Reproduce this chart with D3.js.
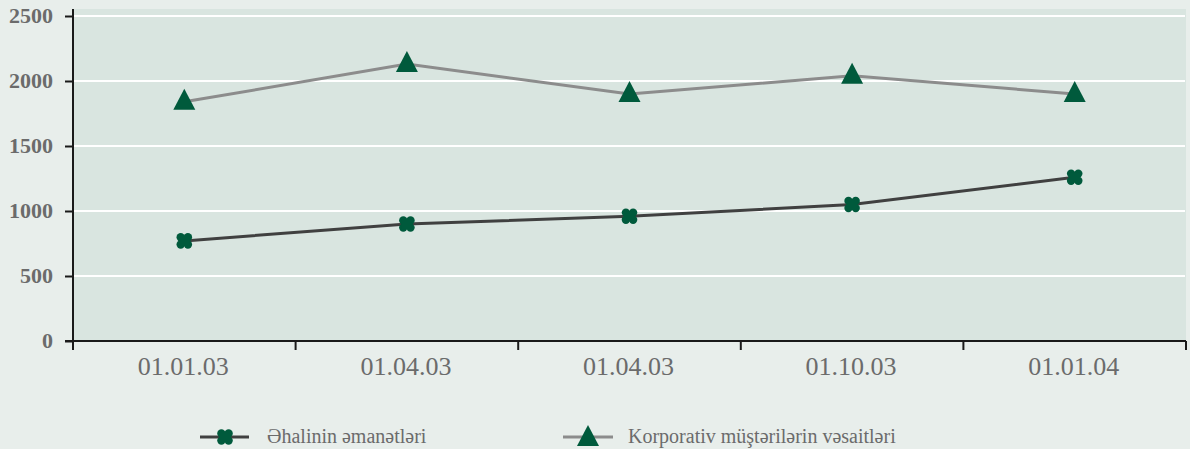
<!DOCTYPE html>
<html><head><meta charset="utf-8">
<script src="https://cdn.jsdelivr.net/npm/d3@7"></script>
<style>body{margin:0;background:#e8eeeb;}svg{display:block;} text{font-family:'Liberation Serif','Times New Roman',Times,'DejaVu Serif',serif;}</style>
</head><body>
<svg id="c" width="1190" height="449"></svg>
<script>
const categories = ["01.01.03", "01.04.03", "01.04.03", "01.10.03", "01.01.04"];
const deposits = [770, 900, 960, 1050, 1260];
const corporate = [1840, 2130, 1900, 2040, 1900];
const yTicks = [0, 500, 1000, 1500, 2000, 2500];
const seriesNames = ["Əhalinin əmanətləri", "Korporativ müştərilərin vəsaitləri"];

const svg = d3.select("#c");
const W = 1190, H = 449;
svg.append("rect").attr("width", W).attr("height", H).attr("fill", "#e8eeeb");
const m = {l: 73, r: 1186, t: 16, b: 341};
const idx = d3.range(categories.length);
const x = d3.scaleBand().domain(idx).range([m.l, m.r]);
const y = d3.scaleLinear().domain([0, 2500]).range([m.b, m.t]);

svg.append("rect").attr("x", m.l).attr("y", 9).attr("width", m.r - m.l).attr("height", m.b - 9).attr("fill", "#d9e5e0");

svg.append("g").selectAll("line").data(yTicks.filter(d => d > 0)).join("line")
  .attr("x1", m.l).attr("x2", m.r - 1).attr("y1", d => y(d)).attr("y2", d => y(d))
  .attr("stroke", "#ffffff").attr("stroke-width", 2);

const yAxis = svg.append("g").attr("transform", `translate(${m.l},0)`)
  .call(d3.axisLeft(y).tickValues(yTicks).tickSize(8).tickFormat(d3.format("d")));
yAxis.attr("font-family", null).attr("font-size", null);
yAxis.select(".domain").attr("d", `M0,${y(2500) - 7}V${m.b}`).attr("stroke", "#1a1a1a").attr("stroke-width", 2);
yAxis.selectAll(".tick line").attr("stroke", "#1a1a1a").attr("stroke-width", 2);
yAxis.selectAll(".tick text").attr("x", -20).attr("dy", "0.3em")
  .attr("font-weight", "bold").attr("font-size", 22).attr("fill", "#6b6b6b");

const xg = svg.append("g").attr("transform", `translate(0,${m.b})`);
xg.append("line").attr("x1", m.l - 8).attr("x2", m.r).attr("stroke", "#1a1a1a").attr("stroke-width", 2);
const bounds = idx.map(i => x(i)).concat([m.r]);
xg.selectAll("line.t").data(bounds).join("line").attr("class", "t")
  .attr("x1", d => d).attr("x2", d => d).attr("y1", 0).attr("y2", 9)
  .attr("stroke", "#1a1a1a").attr("stroke-width", 2);
xg.selectAll("text").data(idx).join("text")
  .attr("x", i => x(i) + x.bandwidth() / 2 - 1).attr("y", 34).attr("text-anchor", "middle")
  .attr("font-size", 26).attr("fill", "#6b6b6b")
  .text(i => categories[i]);

const cx = i => x(i) + x.bandwidth() / 2;
const line = d3.line().x((d, i) => cx(i)).y(d => y(d));
svg.append("path").datum(corporate).attr("d", line).attr("fill", "none").attr("stroke", "#8c8c8c").attr("stroke-width", 3);
svg.append("path").datum(deposits).attr("d", line).attr("fill", "none").attr("stroke", "#404040").attr("stroke-width", 3);

const green = "#005a3c";
function cross(g, px, py) {
  const r = 4.2, o = 3.6;
  [[-1,-1],[1,-1],[-1,1],[1,1]].forEach(([a,b]) =>
    g.append("circle").attr("cx", px + a*o).attr("cy", py + b*o).attr("r", r).attr("fill", green));
  g.append("rect").attr("x", px - 5).attr("y", py - 5).attr("width", 10).attr("height", 10).attr("fill", green);
}
function tri(g, px, py) {
  g.append("path").attr("d", `M${px},${py - 13}L${px + 11},${py + 8}L${px - 11},${py + 8}Z`).attr("fill", green);
}
const mk = svg.append("g");
corporate.forEach((d, i) => tri(mk, cx(i), y(d)));
deposits.forEach((d, i) => cross(mk, cx(i), y(d)));

const leg = svg.append("g");
const ly = 437;
leg.append("line").attr("x1", 200).attr("x2", 249).attr("y1", ly).attr("y2", ly).attr("stroke", "#404040").attr("stroke-width", 3);
cross(leg, 225, ly);
leg.append("text").attr("x", 267).attr("y", 443).attr("font-size", 20).attr("fill", "#6b6b6b").text(seriesNames[0]);
leg.append("line").attr("x1", 563).attr("x2", 613).attr("y1", ly).attr("y2", ly).attr("stroke", "#8c8c8c").attr("stroke-width", 3);
tri(leg, 588, ly + 1);
leg.append("text").attr("x", 628).attr("y", 443).attr("font-size", 20).attr("fill", "#6b6b6b").text(seriesNames[1]);
</script>
</body></html>
